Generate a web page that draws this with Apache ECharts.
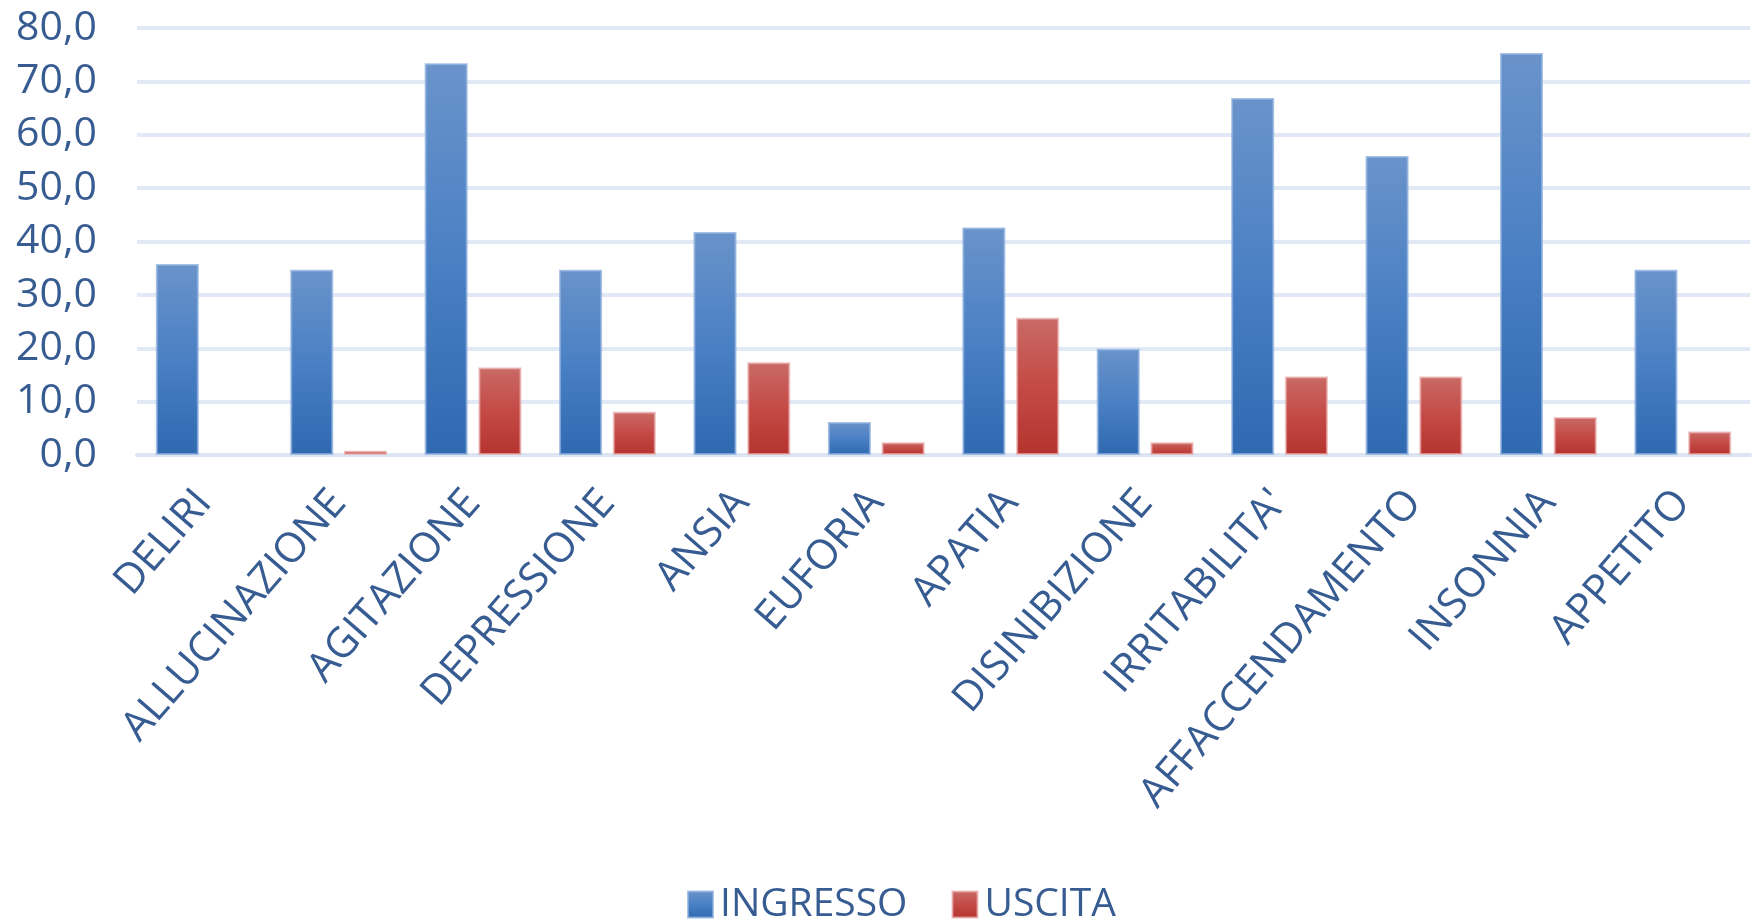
<!DOCTYPE html>
<html>
<head>
<meta charset="utf-8">
<script src="https://cdn.jsdelivr.net/npm/echarts@6/dist/echarts.min.js"></script>
<style>
html,body{margin:0;padding:0;background:#fff;}
#chart{width:1752px;height:923px;}
</style>
</head>
<body>
<div id="chart"></div>
<script>
const categories = ['DELIRI','ALLUCINAZIONE','AGITAZIONE','DEPRESSIONE','ANSIA','EUFORIA','APATIA','DISINIBIZIONE',"IRRITABILITA'",'AFFACCENDAMENTO','INSONNIA','APPETITO'];
const ingresso = [35.8, 34.7, 73.4, 34.7, 41.8, 6.2, 42.6, 19.9, 66.9, 56.0, 75.3, 34.7];
const uscita = [0, 0.8, 16.4, 8.1, 17.4, 2.4, 25.7, 2.4, 14.7, 14.7, 7.1, 4.4];
const seriesNames = ['INGRESSO','USCITA'];
const yTicks = {min: 0, max: 80, interval: 10};

const textColor = '#375c92';
const font = '"Open Sans", "Liberation Sans", sans-serif';

const blueFill = new echarts.graphic.LinearGradient(0,0,0,1,[{offset:0,color:'#6a93ca'},{offset:0.5,color:'#4a80c4'},{offset:1,color:'#2f69b0'}]);
const redFill = new echarts.graphic.LinearGradient(0,0,0,1,[{offset:0,color:'#c96a66'},{offset:0.5,color:'#c44a45'},{offset:1,color:'#b5332f'}]);

const toItems = arr => arr.map(v => v === 0 ? {value: v, itemStyle: {borderWidth: 0}} : v);

const chart = echarts.init(document.getElementById('chart'), null, {renderer:'canvas'});
chart.setOption({
  animation: false,
  backgroundColor: '#ffffff',
  grid: {left: 137, right: 2, top: 28, bottom: 468, containLabel: false},
  legend: {
    data: seriesNames,
    left: 682, top: 880,
    itemWidth: 25, itemHeight: 26, itemGap: 44,
    icon: 'rect',
    textStyle: {color: textColor, fontFamily: font, fontSize: 39, padding: [0,0,0,2]}
  },
  xAxis: {
    type: 'category',
    data: categories,
    axisLine: {show: true, lineStyle: {color: '#dce6f3', width: 4}},
    axisTick: {show: false},
    axisLabel: {
      interval: 0, rotate: 49, margin: 41,
      color: textColor, fontFamily: font, fontSize: 41.5
    }
  },
  yAxis: {
    type: 'value',
    min: yTicks.min, max: yTicks.max, interval: yTicks.interval,
    axisLine: {show: false},
    axisTick: {show: false},
    splitLine: {lineStyle: {color: '#e0e9f5', width: 4}},
    axisLabel: {
      margin: 40, color: textColor, fontFamily: font, fontSize: 41,
      formatter: v => v.toFixed(1).replace('.', ',')
    }
  },
  series: [
    {
      name: seriesNames[0], type: 'bar', data: toItems(ingresso),
      barCategoryGap: '28%', barGap: '25%',
      itemStyle: {color: blueFill, borderColor: 'rgba(140,175,222,0.75)', borderWidth: 2}
    },
    {
      name: seriesNames[1], type: 'bar', data: toItems(uscita),
      itemStyle: {color: redFill, borderColor: 'rgba(232,170,170,0.7)', borderWidth: 2}
    }
  ]
});
</script>
</body>
</html>
